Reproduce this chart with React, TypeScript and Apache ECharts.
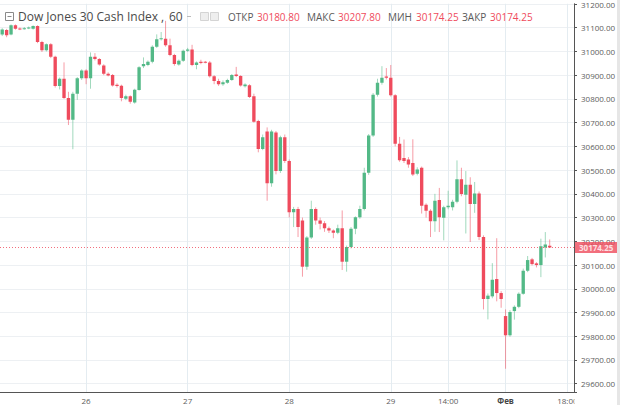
import React, { useEffect, useRef } from 'react';
import * as echarts from 'echarts';

// Hourly OHLC candles, Dow Jones 30 Cash Index
const opens = [
  31072, 31090, 31072, 31110, 31097, 31096, 31098, 31096, 31107, 31040,
  31005, 31030, 30978, 30854, 30885, 30804, 30712, 30822, 30887, 30920,
  30887, 30978, 30968, 30941, 30906, 30901, 30860, 30855, 30801, 30811,
  30785, 30838, 30938, 30943, 30957, 31020, 31051, 31054, 31026, 30985,
  30945, 30961, 31003, 31008, 30943, 30957, 30957, 30954, 30896, 30876,
  30862, 30868, 30880, 30903, 30897, 30853, 30858, 30811, 30707, 30589,
  30663, 30445, 30658, 30496, 30638, 30538, 30322, 30336, 30288, 30093,
  30216, 30336, 30288, 30276, 30255, 30246, 30236, 30255, 30114, 30176,
  30253, 30301, 30336, 30489, 30646, 30818, 30868, 30895, 30889, 30815,
  30611, 30551, 30545, 30530, 30485, 30510, 30354, 30329, 30285, 30374,
  30299, 30343, 30343, 30367, 30461, 30396, 30438, 30357, 30401, 30218,
  29957, 29968, 30041, 29982, 29885, 29804, 29906, 29924, 29979, 30076,
  30124, 30107, 30100, 30174, 30180.8,
];
const closes = [
  31093, 31068, 31110, 31096, 31095, 31098, 31101, 31107, 31040, 31005,
  31030, 30978, 30854, 30885, 30804, 30712, 30822, 30887, 30920, 30887,
  30978, 30968, 30945, 30906, 30899, 30857, 30854, 30804, 30811, 30788,
  30839, 30933, 30947, 30957, 31020, 31051, 31056, 31026, 30985, 30947,
  30961, 31003, 31008, 30943, 30954, 30951, 30954, 30896, 30876, 30862,
  30870, 30880, 30901, 30897, 30857, 30861, 30808, 30704, 30589, 30638,
  30445, 30663, 30496, 30638, 30538, 30322, 30336, 30260, 30093, 30216,
  30336, 30288, 30274, 30255, 30246, 30236, 30255, 30114, 30176, 30253,
  30301, 30336, 30489, 30646, 30818, 30868, 30889, 30889, 30815, 30611,
  30542, 30538, 30524, 30482, 30503, 30350, 30329, 30285, 30371, 30301,
  30343, 30350, 30367, 30461, 30399, 30438, 30357, 30401, 30218, 29957,
  29971, 30038, 29982, 29957, 29804, 29902, 29924, 29979, 30076, 30121,
  30104, 30100, 30179, 30187, 30174.25,
];
const highs = [
  31098, 31095, 31114, 31114, 31101, 31103, 31105, 31110, 31110, 31045,
  31034, 31035, 30982, 30890, 30954, 30830, 30830, 30892, 30925, 30925,
  30996, 30993, 30972, 30946, 30912, 30905, 30866, 30860, 30818, 30815,
  30843, 30938, 30975, 30962, 31026, 31072, 31082, 31129, 31054, 30990,
  30966, 31008, 31015, 31028, 30958, 30965, 30960, 30960, 30900, 30885,
  30878, 30885, 30905, 30935, 30900, 30866, 30862, 30822, 30712, 30650,
  30680, 30670, 30665, 30645, 30650, 30545, 30345, 30345, 30300, 30222,
  30371, 30343, 30300, 30285, 30262, 30250, 30270, 30330, 30182, 30260,
  30305, 30350, 30510, 30652, 30825, 30885, 30938, 30930, 30943, 30820,
  30640, 30629, 30555, 30630, 30512, 30515, 30360, 30335, 30400, 30425,
  30350, 30413, 30375, 30541, 30510, 30496, 30470, 30450, 30410, 30225,
  29980, 30108, 30213, 29990, 29913, 29910, 29930, 29985, 30085, 30138,
  30130, 30112, 30211, 30239, 30207.8,
];
const lows = [
  31065, 31060, 31068, 31092, 31090, 31092, 31094, 31092, 31035, 30998,
  31000, 30972, 30848, 30840, 30800, 30690, 30588, 30796, 30880, 30862,
  30843, 30962, 30940, 30900, 30895, 30852, 30848, 30790, 30795, 30780,
  30780, 30835, 30930, 30938, 30950, 31015, 31046, 31020, 30980, 30940,
  30940, 30956, 30998, 30938, 30925, 30946, 30950, 30890, 30862, 30855,
  30855, 30864, 30876, 30892, 30852, 30848, 30804, 30700, 30575, 30584,
  30371, 30430, 30482, 30488, 30530, 30301, 30260, 30218, 30051, 30080,
  30210, 30270, 30250, 30240, 30235, 30213, 30230, 30079, 30072, 30170,
  30230, 30295, 30330, 30480, 30640, 30810, 30860, 30882, 30810, 30600,
  30535, 30530, 30510, 30475, 30478, 30317, 30300, 30218, 30240, 30239,
  30204, 30335, 30330, 30360, 30390, 30233, 30197, 30320, 30205, 29913,
  29871, 29960, 29947, 29920, 29663, 29798, 29870, 29918, 29975, 30070,
  30098, 30090, 30049, 30132, 30174.25,
];

// time slots on the axis (candles + empty space on the right)
const slotCount = 130;
const axisLabels: Record<number, string> = {
  19: '26',
  42: '27',
  65: '28',
  88: '29',
  101: '14:00',
  114: 'Фев',
  128: '18:00',
};
const yMin = 29565;
const yMax = 31201;
const lastPrice = 30174.25;
const ohlcLabels = ['ОТКР', 'МАКС', 'МИН', 'ЗАКР'];
const ohlcValues = ['30180.80', '30207.80', '30174.25', '30174.25'];

const UP = '#53b987';
const DOWN = '#ef4b5d';
const FONT = '"Open Sans", "Liberation Sans", sans-serif';

export default function App() {
  const ref = useRef<HTMLDivElement>(null);

  useEffect(() => {
    const chart = echarts.init(ref.current!, null, { renderer: 'svg' });
    const candles = opens.map((o, i) => [i, o, closes[i], lows[i], highs[i]]);
    const slots = Array.from({ length: slotCount }, (_, i) => String(i));
    const isLabeled = (i: number) => axisLabels[i] !== undefined;

    const ohlcX = [228, 307, 388, 462];
    const ohlcVX = [257, 338, 416, 490];
    const ohlcTexts: any[] = [];
    ohlcLabels.forEach((t, k) => {
      ohlcTexts.push({
        type: 'text', x: ohlcX[k], y: 17,
        style: { text: t, fill: '#5a5a5a', fontSize: 10, fontFamily: FONT, verticalAlign: 'middle' },
      });
      ohlcTexts.push({
        type: 'text', x: ohlcVX[k], y: 17,
        style: { text: ohlcValues[k], fill: DOWN, fontSize: 10, fontFamily: FONT, verticalAlign: 'middle' },
      });
    });

    chart.setOption({
      animation: false,
      backgroundColor: '#ffffff',
      grid: { left: -2, right: 46, top: 0, bottom: 13, containLabel: false },
      xAxis: {
        type: 'category',
        data: slots,
        boundaryGap: true,
        axisLine: { show: true, lineStyle: { color: '#555555', width: 1 } },
        axisTick: { show: false },
        axisLabel: {
          interval: (i: number) => isLabeled(i),
          formatter: (_v: string, i: number) =>
            axisLabels[i] === 'Фев' ? '{b|Фев}' : axisLabels[i] ?? '',
          color: '#5d5d5d',
          fontSize: 8,
          fontFamily: FONT,
          margin: 4,
          rich: { b: { fontSize: 8, fontFamily: FONT, fontWeight: 'bold', color: '#444' } },
        },
        splitLine: {
          show: true,
          alignWithLabel: true,
          interval: (i: number) => isLabeled(i),
          lineStyle: { color: '#e4ecf1', width: 1 },
        },
      },
      yAxis: {
        type: 'value',
        position: 'right',
        min: yMin,
        max: yMax,
        splitNumber: 16,
        scale: true,
        axisLine: { show: true, lineStyle: { color: '#555555', width: 1 } },
        axisTick: { show: true, length: 3, lineStyle: { color: '#555555' } },
        axisLabel: {
          color: '#5d5d5d',
          fontSize: 8,
          fontFamily: FONT,
          margin: 7,
          formatter: (v: number) => (Math.abs(v % 100) < 1e-6 ? v.toFixed(2) : ''),
        },
        splitLine: { show: true, lineStyle: { color: '#edf0f3', width: 1 } },
      },
      series: [
        {
          type: 'custom',
          clip: true,
          data: candles,
          encode: { x: 0, y: [1, 2, 3, 4] },
          renderItem: (params: any, api: any) => {
            const idx = api.value(0);
            const o = api.value(1);
            const c = api.value(2);
            const l = api.value(3);
            const h = api.value(4);
            const pO = api.coord([idx, o]);
            const pC = api.coord([idx, c]);
            const pL = api.coord([idx, l]);
            const pH = api.coord([idx, h]);
            const bw = api.size([1, 0])[0] * 0.76;
            const x = pO[0];
            const color = c >= o ? UP : DOWN;
            const top = Math.min(pO[1], pC[1]);
            const bot = Math.max(pO[1], pC[1]);
            return {
              type: 'group',
              children: [
                {
                  type: 'line',
                  shape: { x1: x, y1: pH[1], x2: x, y2: pL[1] },
                  style: { stroke: color, lineWidth: 1, opacity: 0.55 },
                },
                {
                  type: 'rect',
                  shape: { x: x - bw / 2, y: top, width: bw, height: Math.max(bot - top, 1) },
                  style: { fill: color },
                },
              ],
            };
          },
        },
        {
          type: 'line',
          data: [],
          symbol: 'none',
          z: 5,
          markLine: {
            silent: true,
            symbol: ['none', 'none'],
            lineStyle: { color: DOWN, type: [1, 2], width: 1, opacity: 0.8 },
            label: {
              show: true,
              position: 'end',
              distance: 1,
              formatter: lastPrice.toFixed(2),
              color: '#ffffff',
              backgroundColor: DOWN,
              padding: [2, 4, 1, 4],
              fontSize: 8,
              fontFamily: FONT,
              fontWeight: 'bold',
            },
            data: [{ yAxis: lastPrice }],
          },
        },
      ],
      graphic: [
        { type: 'rect', z: 100, shape: { x: 574.5, y: 393, width: 43, height: 12 }, style: { fill: '#ffffff' } },
        { type: 'rect', z: 100, shape: { x: 617, y: 0, width: 3, height: 405 }, style: { fill: '#e6e6e6' } },
        { type: 'rect', z: 100, shape: { x: 5.5, y: 12.5, width: 8, height: 8 }, style: { fill: 'none', stroke: '#8a8a8a', lineWidth: 1 } },
        { type: 'line', z: 100, shape: { x1: 7.5, y1: 16.5, x2: 11.5, y2: 16.5 }, style: { stroke: '#8a8a8a', lineWidth: 1 } },
        {
          type: 'text', z: 100, x: 18, y: 16,
          style: { text: 'Dow Jones 30 Cash Index', fill: '#4a4a4a', fontSize: 12, fontFamily: FONT, verticalAlign: 'middle' },
        },
        {
          type: 'text', z: 100, x: 161, y: 16,
          style: { text: ',', fill: '#4a4a4a', fontSize: 12, fontFamily: FONT, verticalAlign: 'middle' },
        },
        {
          type: 'text', z: 100, x: 169, y: 16,
          style: { text: '60', fill: '#4a4a4a', fontSize: 12, fontFamily: FONT, verticalAlign: 'middle' },
        },
        { type: 'line', z: 100, shape: { x1: 187, y1: 16.5, x2: 191, y2: 16.5 }, style: { stroke: '#bbbbbb', lineWidth: 1 } },
        { type: 'rect', z: 100, shape: { x: 200.5, y: 12.5, width: 8, height: 8 }, style: { fill: '#eeeeee', stroke: '#d4d4d4', lineWidth: 1 } },
        { type: 'rect', z: 100, shape: { x: 210.5, y: 12.5, width: 8, height: 8 }, style: { fill: '#eeeeee', stroke: '#d4d4d4', lineWidth: 1 } },
        ...ohlcTexts.map((t) => ({ ...t, z: 100 })),
      ],
    });

    return () => chart.dispose();
  }, []);

  return (
    <div
      ref={ref}
      style={{ position: 'fixed', left: 0, top: 0, width: 620, height: 405, background: '#ffffff' }}
    />
  );
}
